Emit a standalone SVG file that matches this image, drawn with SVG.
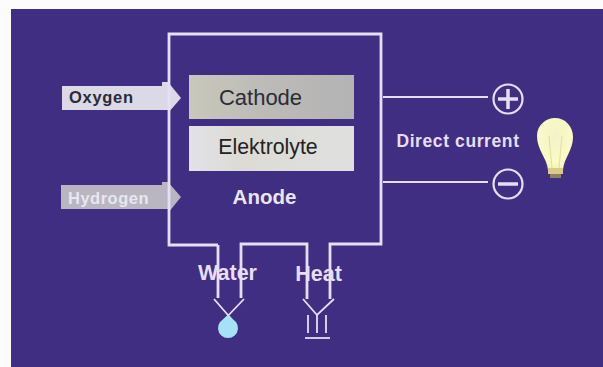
<svg xmlns="http://www.w3.org/2000/svg" width="603" height="367" viewBox="0 0 603 367">
<style>
text{font-family:"Liberation Sans",Arial,sans-serif}
.w{fill:none;stroke:#e6def5;stroke-width:2.800}
.t{fill:none;stroke:#e6def5;stroke-width:1.800}
.l{fill:#e6def5;font-weight:bold}
</style>
<defs>
<linearGradient id="gc" x1="0" x2="1" y1="0" y2="0"><stop offset="0" stop-color="#c9c8bc"/><stop offset="0.4" stop-color="#bdbcb8"/><stop offset="1" stop-color="#b4b3b4"/></linearGradient>
<linearGradient id="ge" x1="0" x2="1" y1="0" y2="0"><stop offset="0" stop-color="#e2e1e8"/><stop offset="0.3" stop-color="#dcdcd4"/><stop offset="1" stop-color="#dfdfdf"/></linearGradient>
<radialGradient id="gb" cx="0.5" cy="0.35" r="0.7"><stop offset="0" stop-color="#f2f2c8"/><stop offset="0.7" stop-color="#fbfbc4"/><stop offset="1" stop-color="#f0eeb0"/></radialGradient>
</defs>
<rect width="603" height="367" fill="#fcfcfc"/>
<rect x="11" y="9" width="592" height="358" fill="#402e82"/>
<g id="oxygen">
<path d="M62 86H162V82H168L181 98L168 113V110H62Z" fill="#dcd9e6"/>
<text x="69" y="103" font-size="16.500" letter-spacing="0.700" font-weight="bold" fill="#2a2a3a">Oxygen</text>
</g>
<g id="hydrogen">
<path d="M61 185H162V182H168L181 197L168 213V209H61Z" fill="#b9b6c2"/>
<text x="68" y="204" font-size="16.500" letter-spacing="0.500" font-weight="bold" fill="#e8e6f0">Hydrogen</text>
</g>
<g id="connectors">
<path class="w" d="M218 245H169V34H381V244H330V299M307 299V244H241V298M218 245V298"/>
<path class="t" d="M214 299L234 322M244 299L222 322M303 299L317 315L334 299M383 97H488M383 182H488"/>
<path class="t" d="M308 315V333M317 315V333M326 315V333"/>
<path class="t" d="M305 338H330"/>
</g>
<g id="cathode">
<rect x="189" y="75" width="165" height="44" fill="url(#gc)"/>
<text x="260.500" y="105" font-size="22" text-anchor="middle" fill="#2c2c34">Cathode</text>
</g>
<g id="elektrolyte">
<rect x="189" y="126" width="165" height="45" fill="url(#ge)"/>
<text x="268" y="154" font-size="21.300" text-anchor="middle" fill="#222">Elektrolyte</text>
</g>
<g id="anode"><text x="264.500" y="204" font-size="20.500" font-weight="bold" text-anchor="middle" fill="#ebe6f5">Anode</text></g>
<g id="water">
<path d="M228 315L236 322A10 10 0 1 1 220 322Z" fill="#a5e2f6"/>
<text x="227.500" y="280" font-size="21.500" class="l" text-anchor="middle">Water</text>
</g>
<g id="heat"><text x="318.500" y="281" font-size="21.500" class="l" text-anchor="middle">Heat</text></g>
<g id="plus">
<circle cx="508" cy="99" r="14.500" fill="none" stroke="#e6def5" stroke-width="2.200"/>
<path d="M498 99H518M508 89V109" fill="none" stroke="#e6def5" stroke-width="3.500"/>
</g>
<g id="minus">
<circle cx="508" cy="184" r="14.500" fill="none" stroke="#e6def5" stroke-width="2.200"/>
<path d="M498 184H518" fill="none" stroke="#e6def5" stroke-width="3.500"/>
</g>
<g id="direct-current"><text x="458" y="147" font-size="17.500" letter-spacing="0.600" class="l" text-anchor="middle">Direct current</text></g>
<g id="bulb">
<path d="M548 170C547 158 537 150 537 136C537 125 546 118 555 118C565 118 573 126 573 137C573 150 564 158 563 170Z" fill="url(#gb)"/>
<path d="M552 168L549 136M559 168L562 136" fill="none" stroke="#d8d6a0" stroke-width="0.800"/>
<rect x="548" y="168" width="15" height="6" fill="#d9c98a"/>
<rect x="550" y="174" width="11" height="4" fill="#8f8060"/>
</g>
</svg>
